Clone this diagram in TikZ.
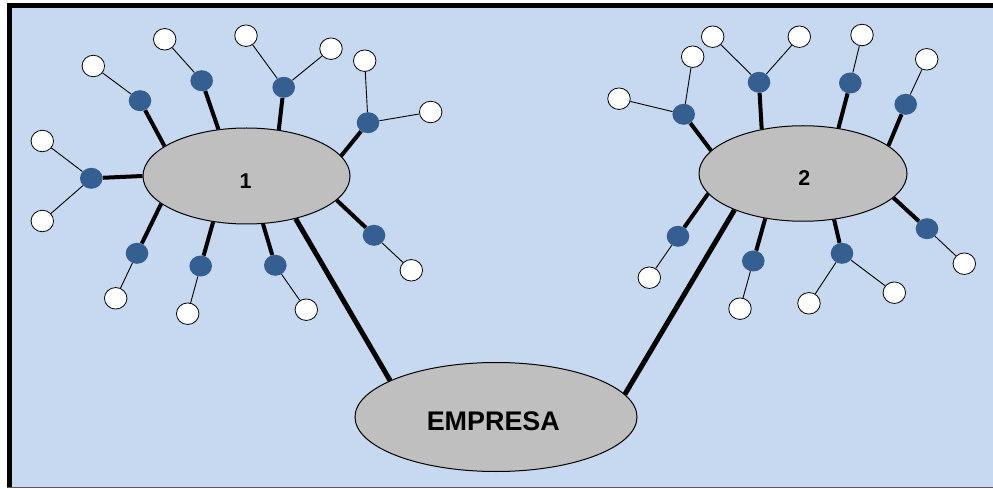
\documentclass[tikz,border=0pt]{standalone}
\usepackage{fontspec}
\setmainfont{Liberation Sans}
\usetikzlibrary{shapes.geometric,backgrounds}
\definecolor{bgblue}{RGB}{198,217,240}
\definecolor{dotblue}{RGB}{54,95,145}
\definecolor{ellgray}{RGB}{191,191,191}
\begin{document}
\begin{tikzpicture}[x=1bp,y=-1bp,
  bdot/.style={ellipse,fill=dotblue,minimum width=22.6bp,minimum height=21bp,inner sep=0pt},
  wdot/.style={ellipse,draw=black,line width=0.8bp,fill=white,minimum width=22.5bp,minimum height=21.5bp,inner sep=0pt},
  hub/.style={ellipse,draw=black,line width=1bp,fill=ellgray,inner sep=0pt},
  twig/.style={line width=0.9bp},
  limb/.style={line width=4bp},
  trunk/.style={line width=5bp},
  lbl/.style={font=\bfseries\fontsize{21.5}{25}\selectfont,inner sep=0pt},
  biglbl/.style={font=\bfseries\fontsize{27}{32}\selectfont,inner sep=0pt}
]
\useasboundingbox (0,0) rectangle (993,489);
% hubs
\node[hub,minimum width=207bp,minimum height=96bp] (e1) at (246.5,176) {};
\node[hub,minimum width=208bp,minimum height=95.5bp] (e2) at (803,173.5) {};
\node[hub,minimum width=282bp,minimum height=109bp] (emp) at (496,417) {};
\node[lbl] (l1) at (245.7,180.7) {1};
\node[lbl] (l2) at (804.3,177.7) {2};
\node[biglbl] (lemp) at (493.3,421) {EMPRESA};
% cluster 1 blue dots
\node[bdot] (a1) at (140,100.7) {};
\node[bdot] (a2) at (201.7,80.7) {};
\node[bdot] (a3) at (283.7,87.3) {};
\node[bdot] (a4) at (368,122.7) {};
\node[bdot] (a5) at (91.3,178.3) {};
\node[bdot] (a6) at (137,253.3) {};
\node[bdot] (a7) at (200.7,266) {};
\node[bdot] (a8) at (275.3,265.3) {};
\node[bdot] (a9) at (374,235.3) {};
% cluster 1 white dots
\node[wdot] (w1) at (93.3,66) {};
\node[wdot] (w2) at (164.7,39.3) {};
\node[wdot] (w3a) at (246,35.7) {};
\node[wdot] (w3b) at (331,48.7) {};
\node[wdot] (w4a) at (364.7,60.7) {};
\node[wdot] (w4b) at (430.7,112) {};
\node[wdot] (w5a) at (42.3,141) {};
\node[wdot] (w5b) at (42.3,221) {};
\node[wdot] (w6) at (115.7,298.3) {};
\node[wdot] (w7) at (187.7,313.7) {};
\node[wdot] (w8) at (306.3,309.7) {};
\node[wdot] (w9) at (411.3,270.3) {};
% cluster 2 blue dots
\node[bdot] (c1) at (683.7,114.3) {};
\node[bdot] (c2) at (759,82.3) {};
\node[bdot] (c3) at (850.3,83) {};
\node[bdot] (c4) at (905.7,104.3) {};
\node[bdot] (c5) at (678,236.3) {};
\node[bdot] (c6) at (753.3,261) {};
\node[bdot] (c7) at (842,253.3) {};
\node[bdot] (c8) at (927,228.7) {};
% cluster 2 white dots
\node[wdot] (v1a) at (692.7,56.7) {};
\node[wdot] (v1b) at (619,98.7) {};
\node[wdot] (v2a) at (712.7,36.7) {};
\node[wdot] (v2b) at (799.3,36.7) {};
\node[wdot] (v3) at (862,35) {};
\node[wdot] (v4) at (926.7,59.3) {};
\node[wdot] (v5) at (649.3,277.7) {};
\node[wdot] (v6) at (740,308.7) {};
\node[wdot] (v7a) at (809,303.3) {};
\node[wdot] (v7b) at (894.3,292.7) {};
\node[wdot] (v8) at (964.3,263.7) {};
\begin{scope}[on background layer]
  \fill[white] (-6,-6) rectangle (1006,496);
  \fill[bgblue] (12,8) rectangle (1006,487);
  \fill[black] (7,3) rectangle (1006,8);
  \fill[black] (7,3) rectangle (12,487);
  \fill[black!65] (7,486.8) rectangle (1006,488.3);
  % trunks
  \draw[trunk] (e1.319.4) -- (emp.161);
  \draw[trunk] (e2.208.7) -- (emp.10.7);
  % limbs cluster 1
  \draw[limb] (a1) -- (e1.160.1);
  \draw[limb] (a2) -- (e1.121.5);
  \draw[limb] (a3) -- (e1.55.3);
  \draw[limb] (a4) -- (e1.12);
  \draw[limb] (a5) -- (e1.180);
  \draw[limb] (a6) -- (e1.198.5);
  \draw[limb] (a7) -- (e1.234.1);
  \draw[limb] (a8) -- (e1.289.2);
  \draw[limb] (a9) -- (e1.345.5);
  % limbs cluster 2
  \draw[limb] (c1) -- (e2.166.8);
  \draw[limb] (c2) -- (e2.133.4);
  \draw[limb] (c3) -- (e2.52.4);
  \draw[limb] (c4) -- (e2.18.8);
  \draw[limb] (c5) -- (e2.192.9);
  \draw[limb] (c6) -- (e2.230.2);
  \draw[limb] (c7) -- (e2.304.5);
  \draw[limb] (c8) -- (e2.345.8);
  % twigs cluster 1
  \draw[twig] (a1) -- (w1);
  \draw[twig] (a2) -- (w2);
  \draw[twig] (a3) -- (w3a);
  \draw[twig] (a3) -- (w3b);
  \draw[twig] (a4) -- (w4a);
  \draw[twig] (a4) -- (w4b);
  \draw[twig] (a5) -- (w5a);
  \draw[twig] (a5) -- (w5b);
  \draw[twig] (a6) -- (w6);
  \draw[twig] (a7) -- (w7);
  \draw[twig] (a8) -- (w8);
  \draw[twig] (a9) -- (w9);
  % twigs cluster 2
  \draw[twig] (c1) -- (v1a);
  \draw[twig] (c1) -- (v1b);
  \draw[twig] (c2) -- (v2a);
  \draw[twig] (c2) -- (v2b);
  \draw[twig] (c3) -- (v3);
  \draw[twig] (c4) -- (v4);
  \draw[twig] (c5) -- (v5);
  \draw[twig] (c6) -- (v6);
  \draw[twig] (c7) -- (v7a);
  \draw[twig] (c7) -- (v7b);
  \draw[twig] (c8) -- (v8);
\end{scope}
\end{tikzpicture}
\end{document}
